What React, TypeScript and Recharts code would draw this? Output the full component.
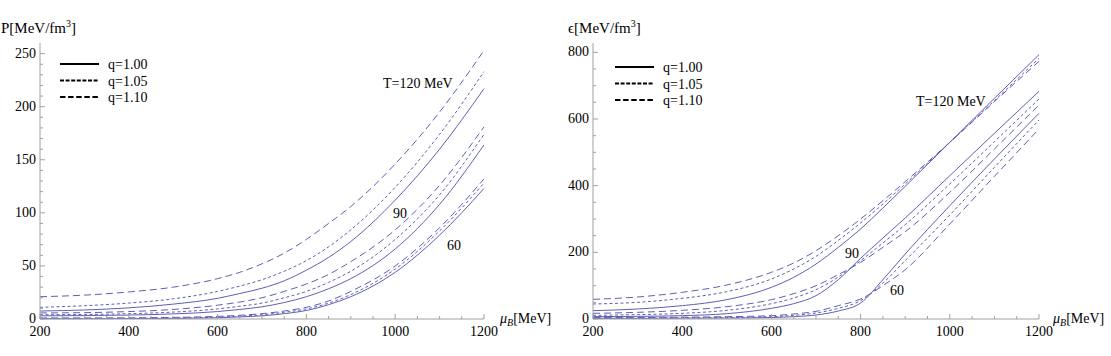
import React from 'react'
import { LineChart, Line, XAxis, YAxis } from 'recharts'

// baryon chemical potential grid [MeV]
const muB = [200, 300, 400, 500, 600, 650, 700, 750, 800, 850, 900, 1000, 1100, 1200]

// pressure P [MeV/fm^3]
const pT120q100 = [7.5, 8.5, 10.5, 14, 19.5, 24, 29, 36, 46, 58, 73, 112, 160, 217]
const pT120q105 = [11, 12.5, 15, 19, 26, 31, 37, 45, 55, 68, 84, 124, 174, 233]
const pT120q110 = [21, 22.5, 25.5, 30, 38, 44, 52, 62, 75, 90, 106, 146, 195, 253]
const pT90q100 = [3, 3.2, 3.7, 4.8, 7, 9, 11.5, 15.5, 21, 28.5, 38, 66, 108, 164]
const pT90q105 = [4, 4.3, 5, 6.5, 9.5, 12, 15, 20, 26, 34.5, 45, 75, 117, 174]
const pT90q110 = [5.7, 6, 7, 9, 13, 16, 20, 26, 33, 42, 54, 84, 126, 181]
const pT60q100 = [0.3, 0.3, 0.4, 0.6, 1.2, 2, 3, 5, 8, 13.5, 21, 44, 79, 123]
const pT60q105 = [0.6, 0.6, 0.7, 1, 1.8, 2.7, 4, 6.3, 9.5, 15, 23, 47, 83, 128]
const pT60q110 = [1, 1, 1.1, 1.5, 2.5, 3.5, 5, 7.5, 11, 17, 26, 50, 86, 132]

// energy density eps [MeV/fm^3]
const eT120q100 = [25, 30, 40, 58, 95, 125, 165, 215, 270, 333, 398, 530, 662, 793]
const eT120q105 = [45, 50, 62, 82, 120, 150, 188, 236, 288, 345, 405, 530, 655, 782]
const eT120q110 = [59, 66, 80, 102, 140, 168, 205, 250, 300, 355, 412, 530, 652, 773]
const eT90q100 = [7, 8, 10, 16, 32, 46, 70, 118, 182, 243, 303, 430, 557, 683]
const eT90q105 = [11, 13, 17, 26, 46, 63, 88, 126, 175, 228, 283, 405, 532, 660]
const eT90q110 = [17, 20, 26, 37, 58, 76, 100, 133, 170, 215, 262, 380, 510, 642]
const eT60q100 = [2, 2, 2.5, 3, 4.5, 7, 12, 24, 48, 118, 195, 340, 480, 617]
const eT60q105 = [3, 3, 3.5, 4.5, 7, 11, 18, 32, 55, 108, 175, 312, 455, 597]
const eT60q110 = [4.5, 4.7, 5.5, 7, 10, 15, 23, 40, 60, 100, 148, 285, 428, 570]

const xTicks = [200, 250, 300, 350, 400, 450, 500, 550, 600, 650, 700, 750, 800, 850, 900, 950, 1000, 1050, 1100, 1150, 1200]
const pTicks = [0, 10, 20, 30, 40, 50, 60, 70, 80, 90, 100, 110, 120, 130, 140, 150, 160, 170, 180, 190, 200, 210, 220, 230, 240, 250]
const eTicks = [0, 50, 100, 150, 200, 250, 300, 350, 400, 450, 500, 550, 600, 650, 700, 750, 800]

const qLabels = ['q=1.00', 'q=1.05', 'q=1.10']
const qDash = [undefined, '3 2.5', '7 4']
const legendDash = [undefined, '4 1.6', '5.5 2.6']

const pSeries = [
  [pT120q100, pT120q105, pT120q110],
  [pT90q100, pT90q105, pT90q110],
  [pT60q100, pT60q105, pT60q110],
]
const eSeries = [
  [eT120q100, eT120q105, eT120q110],
  [eT90q100, eT90q105, eT90q110],
  [eT60q100, eT60q105, eT60q110],
]

const SERIF = { fontFamily: '"Liberation Serif", "DejaVu Serif", "Times New Roman", serif' }
const LINE = '#5f5fb6'
const AXIS = '#a0a0a0'

function buildRows(series: number[][][]) {
  return muB.map((mu, i) => {
    const row: Record<string, number> = { mu }
    series.forEach((group, t) =>
      group.forEach((vals, q) => {
        row[`s${t}${q}`] = vals[i]
      })
    )
    return row
  })
}

const pRows = buildRows(pSeries)
const eRows = buildRows(eSeries)

function XTick(props: any) {
  const { x, y, payload } = props
  const major = payload.value % 200 === 0
  return (
    <g>
      <line x1={x} y1={y} x2={x} y2={y - (major ? 5 : 3)} stroke={AXIS} strokeWidth={1} />
      {major && (
        <text x={x} y={y + 17} textAnchor="middle" fontSize={14} style={SERIF} fill="#000">
          {payload.value}
        </text>
      )}
    </g>
  )
}

function makeYTick(step: number) {
  return function YTick(props: any) {
    const { x, y, payload } = props
    const major = payload.value % step === 0
    return (
      <g>
        <line x1={x} y1={y} x2={x + (major ? 5 : 3)} y2={y} stroke={AXIS} strokeWidth={1} />
        {major && (
          <text x={x - 4} y={y + 4} textAnchor="end" fontSize={14} style={SERIF} fill="#000">
            {payload.value}
          </text>
        )}
      </g>
    )
  }
}

function Panel({ rows, yMax, yTicks, step, width, right }: any) {
  return (
    <LineChart
      width={width}
      height={356}
      data={rows}
      margin={{ top: 43, right, bottom: 0, left: 0 }}
    >
      <XAxis
        dataKey="mu"
        type="number"
        domain={[200, 1200]}
        ticks={xTicks}
        interval={0}
        height={37}
        tickSize={0}
        tickMargin={0}
        tickLine={false}
        axisLine={{ stroke: AXIS, strokeWidth: 1 }}
        tick={<XTick />}
      />
      <YAxis
        type="number"
        domain={[0, yMax]}
        ticks={yTicks}
        interval={0}
        width={40}
        tickSize={0}
        tickMargin={0}
        tickLine={false}
        axisLine={{ stroke: AXIS, strokeWidth: 1 }}
        tick={makeYTick(step)}
      />
      {[0, 1, 2].map((t) =>
        [0, 1, 2].map((q) => (
          <Line
            key={`s${t}${q}`}
            type="monotone"
            dataKey={`s${t}${q}`}
            stroke={LINE}
            strokeWidth={1}
            strokeDasharray={qDash[q]}
            dot={false}
            isAnimationActive={false}
          />
        ))
      )}
    </LineChart>
  )
}

function Legend({ x, y }: { x: number; y: number }) {
  return (
    <g>
      {qLabels.map((label, i) => (
        <g key={label}>
          <line
            x1={x}
            y1={y + i * 16.5}
            x2={x + 39}
            y2={y + i * 16.5}
            stroke="#000"
            strokeWidth={2}
            strokeDasharray={legendDash[i]}
          />
          <text x={x + 48} y={y + i * 16.5 + 5} fontSize={14} style={SERIF} fill="#000">
            {label}
          </text>
        </g>
      ))}
    </g>
  )
}

function Txt({ x, y, children }: any) {
  return (
    <text x={x} y={y} fontSize={14} style={SERIF} fill="#000">
      {children}
    </text>
  )
}

export default function App() {
  return (
    <div style={{ position: 'absolute', left: 0, top: 0, width: 1111, height: 356, background: '#fff' }}>
      <div style={{ position: 'absolute', left: 0, top: 0 }}>
        <Panel rows={pRows} yMax={260} yTicks={pTicks} step={50} width={560} right={76} />
      </div>
      <div style={{ position: 'absolute', left: 553, top: 0 }}>
        <Panel rows={eRows} yMax={828} yTicks={eTicks} step={200} width={558} right={72} />
      </div>
      <svg
        width={1111}
        height={356}
        style={{ position: 'absolute', left: 0, top: 0, pointerEvents: 'none' }}
      >
        <text x={1} y={33} fontSize={15} style={SERIF} fill="#000">
          P[MeV/fm<tspan dy={-6} fontSize={10}>3</tspan>
          <tspan dy={6}>]</tspan>
        </text>
        <text x={568} y={33} fontSize={15} style={SERIF} fill="#000">
          ϵ[MeV/fm<tspan dy={-6} fontSize={10}>3</tspan>
          <tspan dy={6}>]</tspan>
        </text>
        <text x={500} y={323} fontSize={14} style={SERIF} fill="#000">
          <tspan fontStyle="italic">μ</tspan>
          <tspan dy={3} fontSize={10} fontStyle="italic">B</tspan>
          <tspan dy={-3}>[MeV]</tspan>
        </text>
        <text x={1053} y={323} fontSize={14} style={SERIF} fill="#000">
          <tspan fontStyle="italic">μ</tspan>
          <tspan dy={3} fontSize={10} fontStyle="italic">B</tspan>
          <tspan dy={-3}>[MeV]</tspan>
        </text>
        <Legend x={60} y={64} />
        <Legend x={615} y={67} />
        <Txt x={383} y={88}>T=120 MeV</Txt>
        <Txt x={393} y={218}>90</Txt>
        <Txt x={447} y={250}>60</Txt>
        <Txt x={916} y={106}>T=120 MeV</Txt>
        <Txt x={845} y={258}>90</Txt>
        <Txt x={890} y={295}>60</Txt>
      </svg>
    </div>
  )
}
